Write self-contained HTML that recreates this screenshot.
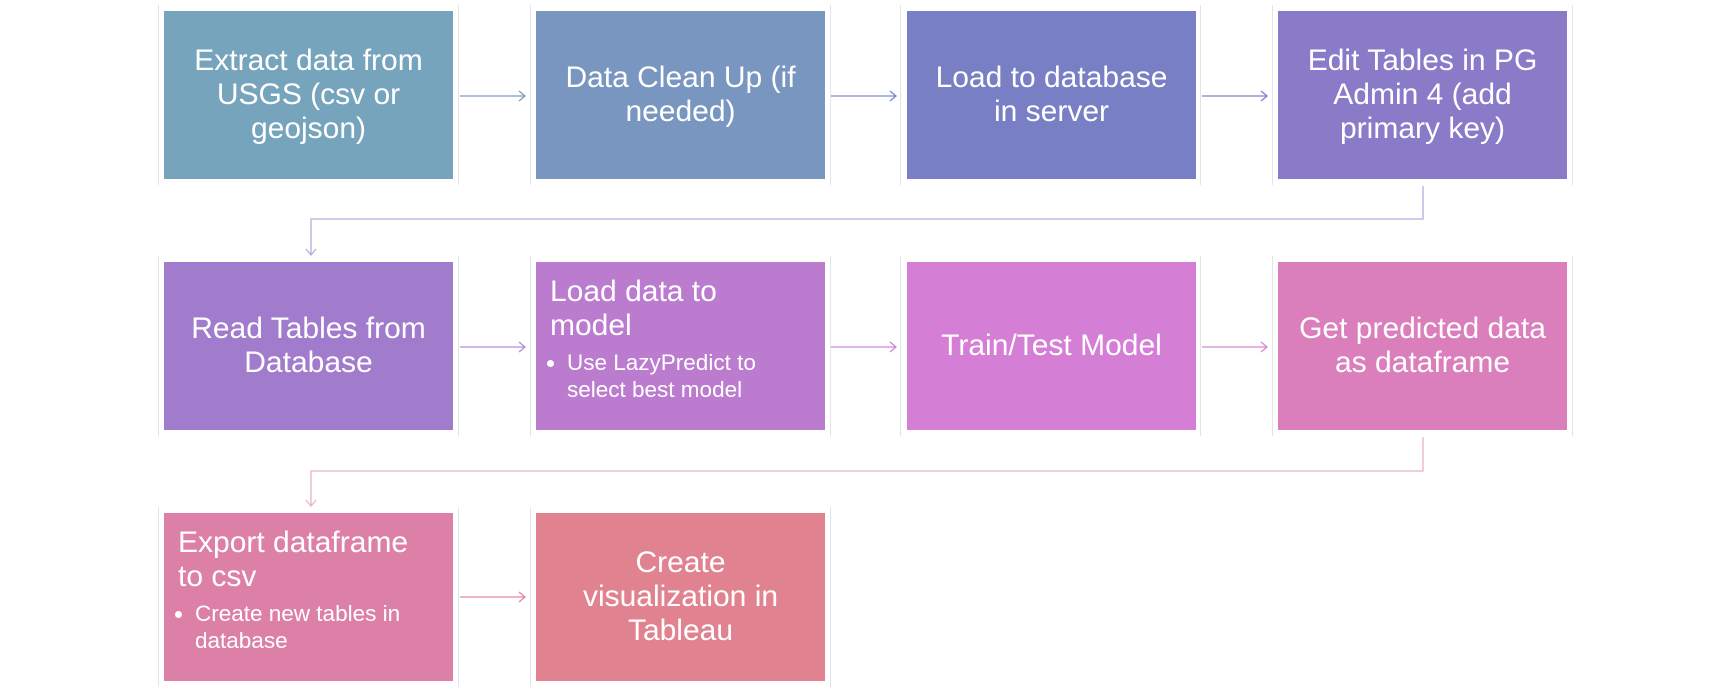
<!DOCTYPE html>
<html><head><meta charset="utf-8"><style>
body{margin:0;width:1729px;height:689px;background:#fff;position:relative;overflow:hidden;font-family:"Liberation Sans",sans-serif;}
.g{position:absolute;border-left:1px solid #e2e4ec;border-right:1px solid #e2e4ec;}
.b{position:absolute;width:289px;height:168px;color:#fff;display:flex;align-items:center;justify-content:center;text-align:center;font-size:30px;line-height:34px;box-sizing:border-box;padding:0 2px;white-space:nowrap;}
.l{align-items:flex-start;justify-content:flex-start;text-align:left;flex-direction:column;padding:13px 14px;}
.l ul{margin:6px 0 0 0;padding-left:17px;font-size:22.5px;line-height:27px;}
svg{position:absolute;left:0;top:0;}
</style></head><body>
<div class="g" style="left:158px;top:5px;width:299px;height:180px"></div>
<div class="g" style="left:530px;top:5px;width:299px;height:180px"></div>
<div class="g" style="left:900px;top:5px;width:299px;height:180px"></div>
<div class="g" style="left:1272px;top:5px;width:299px;height:180px"></div>
<div class="g" style="left:158px;top:256px;width:299px;height:180px"></div>
<div class="g" style="left:530px;top:256px;width:299px;height:180px"></div>
<div class="g" style="left:900px;top:256px;width:299px;height:180px"></div>
<div class="g" style="left:1272px;top:256px;width:299px;height:180px"></div>
<div class="g" style="left:158px;top:507px;width:299px;height:180px"></div>
<div class="g" style="left:530px;top:507px;width:299px;height:180px"></div>

<div class="b" style="left:164px;top:11px;background:#76a4bd"><div>Extract data from<br>USGS (csv or<br>geojson)</div></div>
<div class="b" style="left:536px;top:11px;background:#7896c0"><div>Data Clean Up (if<br>needed)</div></div>
<div class="b" style="left:907px;top:11px;background:#787fc4"><div>Load to database<br>in server</div></div>
<div class="b" style="left:1278px;top:11px;background:#897bc8"><div>Edit Tables in PG<br>Admin 4 (add<br>primary key)</div></div>

<div class="b" style="left:164px;top:262px;background:#a17ccc"><div>Read Tables from<br>Database</div></div>
<div class="b l" style="left:536px;top:262px;background:#bb7ccf"><div>Load data to<br>model</div><ul><li>Use LazyPredict to<br>select best model</li></ul></div>
<div class="b" style="left:907px;top:262px;background:#d57ed5"><div>Train/Test Model</div></div>
<div class="b" style="left:1278px;top:262px;background:#da7ebc"><div>Get predicted data<br>as dataframe</div></div>

<div class="b l" style="left:164px;top:513px;background:#dd80a8"><div>Export dataframe<br>to csv</div><ul><li>Create new tables in<br>database</li></ul></div>
<div class="b" style="left:536px;top:513px;background:#e08290"><div>Create<br>visualization in<br>Tableau</div></div>

<svg width="1729" height="689" fill="none" stroke-width="1.3">
<g stroke="#7f9cc3"><path d="M460 96H524M519 91L525 96L519 101"/></g>
<g stroke="#7a8ac4"><path d="M831 96H895M890 91L896 96L890 101"/></g>
<g stroke="#8580c8"><path d="M1202 96H1266M1261 91L1267 96L1261 101"/></g>
<g stroke="#bba8e0"><path d="M1423 186V219H311V254M306 249L311 255L316 249"/></g>
<g stroke="#b08fd8"><path d="M460 347H524M519 342L525 347L519 352"/></g>
<g stroke="#cc88d6"><path d="M831 347H895M890 342L896 347L890 352"/></g>
<g stroke="#d88ad0"><path d="M1202 347H1266M1261 342L1267 347L1261 352"/></g>
<g stroke="#e8b0cc"><path d="M1423 437V471H311V505M306 500L311 506L316 500"/></g>
<g stroke="#e088a0"><path d="M460 597H524M519 592L525 597L519 602"/></g>
</svg>
</body></html>
